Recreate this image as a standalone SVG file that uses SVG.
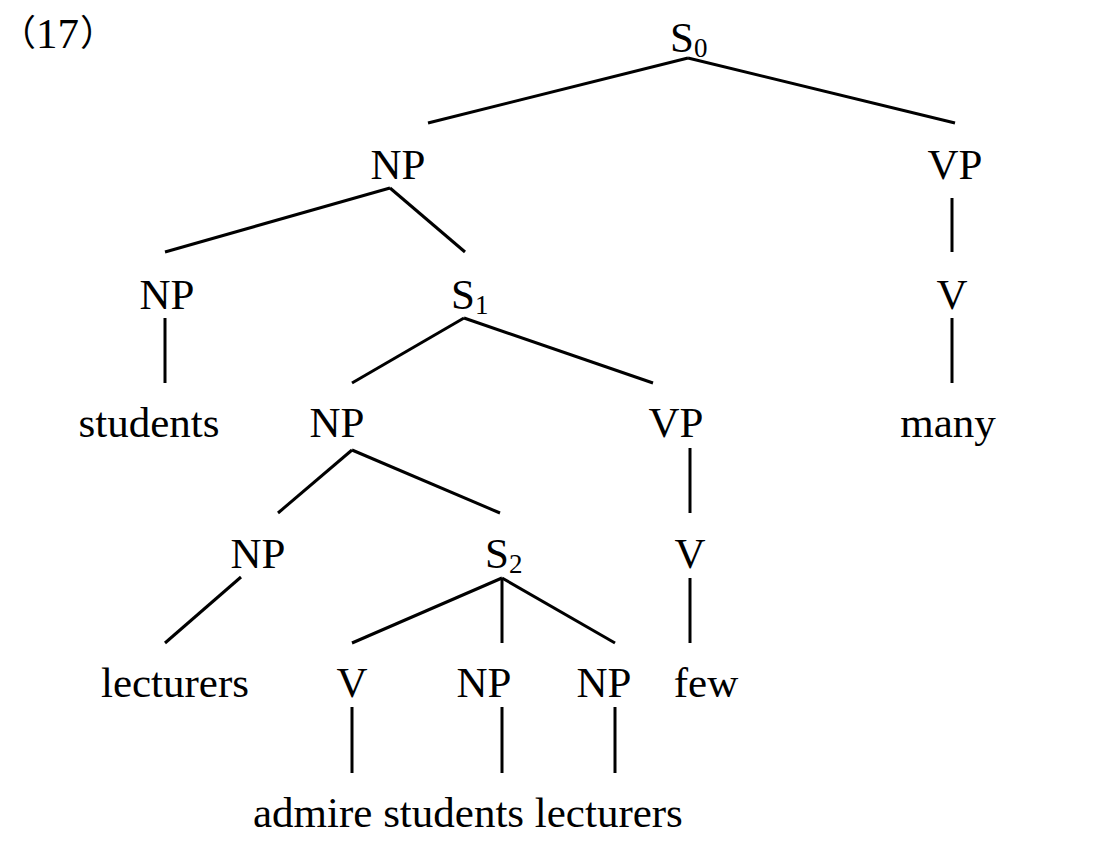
<svg xmlns="http://www.w3.org/2000/svg" width="1111" height="856" viewBox="0 0 1111 856">
<style>
text{font-family:"Liberation Serif","Times New Roman",serif;font-size:43px;fill:#000}
.c{text-anchor:middle}
.sub{font-size:27px}
.cjk{font-family:"Noto Sans CJK SC","Noto Sans CJK JP",sans-serif;font-size:36px}
#edges line{stroke:#000;stroke-width:3;stroke-linecap:butt}
</style>
<rect width="1111" height="856" fill="#fff"/>
<g id="label17"><text><tspan class="cjk" x="0" y="46">（</tspan><tspan x="36" y="48">17</tspan><tspan class="cjk" x="80" y="46">）</tspan></text></g>
<g id="edges">
<line x1="688" y1="58" x2="428" y2="123"/>
<line x1="688" y1="58" x2="955" y2="123"/>
<line x1="390" y1="188" x2="165" y2="252"/>
<line x1="390" y1="188" x2="465" y2="252"/>
<line x1="952" y1="198" x2="952" y2="252"/>
<line x1="165" y1="318" x2="165" y2="383"/>
<line x1="464" y1="318" x2="352" y2="383"/>
<line x1="464" y1="318" x2="653" y2="383"/>
<line x1="952" y1="318" x2="952" y2="383"/>
<line x1="352" y1="450" x2="278" y2="513"/>
<line x1="352" y1="450" x2="500" y2="513"/>
<line x1="690" y1="448" x2="690" y2="513"/>
<line x1="241" y1="577" x2="165" y2="643"/>
<line x1="502" y1="578" x2="352" y2="643"/>
<line x1="502" y1="578" x2="502" y2="643"/>
<line x1="502" y1="578" x2="615" y2="643"/>
<line x1="690" y1="578" x2="690" y2="643"/>
<line x1="352" y1="707" x2="352" y2="773"/>
<line x1="502" y1="707" x2="502" y2="773"/>
<line x1="615" y1="707" x2="615" y2="773"/>
</g>
<g id="S0"><text x="670" y="52">S<tspan class="sub" dy="5">0</tspan></text></g>
<g id="NP_a"><text class="c" x="398" y="179">NP</text></g>
<g id="VP_a"><text class="c" x="955" y="179">VP</text></g>
<g id="NP_b"><text class="c" x="167" y="309">NP</text></g>
<g id="S1"><text x="451" y="309">S<tspan class="sub" dy="5">1</tspan></text></g>
<g id="V_a"><text class="c" x="952" y="309">V</text></g>
<g id="students_a"><text class="c" x="149" y="437">students</text></g>
<g id="NP_c"><text class="c" x="337" y="437">NP</text></g>
<g id="VP_b"><text class="c" x="676" y="437">VP</text></g>
<g id="many"><text class="c" x="948" y="437">many</text></g>
<g id="NP_d"><text class="c" x="258" y="568">NP</text></g>
<g id="S2"><text x="485" y="568">S<tspan class="sub" dy="5">2</tspan></text></g>
<g id="V_b"><text class="c" x="690" y="568">V</text></g>
<g id="lecturers_a"><text class="c" x="175" y="697">lecturers</text></g>
<g id="V_c"><text class="c" x="352" y="697">V</text></g>
<g id="NP_e"><text class="c" x="484" y="697">NP</text></g>
<g id="NP_f"><text class="c" x="604" y="697">NP</text></g>
<g id="few"><text class="c" x="706" y="697">few</text></g>
<g id="bottom"><text x="253" y="827">admire students lecturers</text></g>
</svg>
